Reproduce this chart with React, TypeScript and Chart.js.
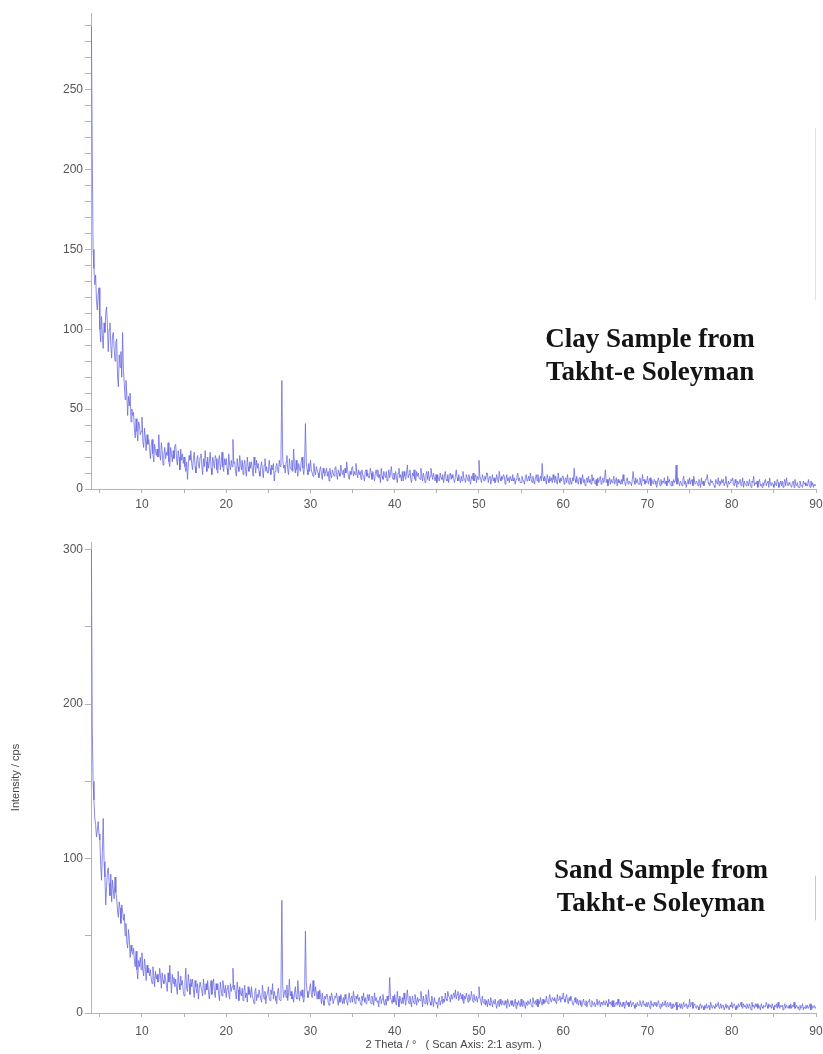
import React, { useEffect, useRef } from 'react';
import { Chart, registerables } from 'chart.js';

Chart.register(...registerables);

// Scan grid (2 Theta, degrees)
const SCAN_START = 4.0;
const SCAN_STEP = 0.1;
const SCAN_POINTS = 861;
const twoTheta: number[] = Array.from({ length: SCAN_POINTS }, (_, i) => +(SCAN_START + i * SCAN_STEP).toFixed(2));

// Clay sample counts (cps), 10 values per degree starting at 4.0
const clayCounts: number[] = [
  290, 210, 150, 138, 128, 134, 118, 112, 122, 126, // 4
  100, 92, 108, 96, 88, 104, 98, 110, 114, 102, // 5
  86, 100, 104, 90, 82, 96, 98, 88, 80, 92, // 6
  94, 70, 64, 84, 76, 86, 70, 98, 74, 66, // 7
  56, 68, 60, 46, 58, 52, 60, 42, 50, 46, // 8
  48, 38, 32, 44, 36, 30, 42, 40, 34, 36, // 9
  45, 30, 26, 38, 32, 24, 34, 28, 31, 26, // 10
  19, 27, 31, 22, 17, 28, 24, 21, 25, 20, // 11
  34, 22, 18, 29, 24, 15, 21, 26, 19, 23, // 12
  21, 29, 17, 14, 26, 22, 17, 24, 19, 27, // 13
  28, 19, 15, 24, 20, 12, 25, 18, 22, 16, // 14
  20, 14, 11, 17, 6, 15, 21, 18, 24, 16, // 15
  12, 19, 23, 14, 10, 18, 21, 15, 13, 20, // 16
  22, 15, 9, 19, 14, 24, 17, 11, 20, 13, // 17
  17, 23, 13, 9, 20, 16, 13, 21, 19, 12, // 18
  10, 18, 21, 12, 16, 23, 14, 11, 19, 15, // 19
  19, 13, 9, 22, 15, 12, 18, 14, 31, 16, // 20
  17, 11, 8, 19, 14, 11, 21, 16, 12, 18, // 21
  9, 15, 18, 11, 8, 20, 14, 11, 17, 13, // 22
  17, 12, 8, 20, 15, 10, 18, 13, 16, 11, // 23
  8, 14, 17, 12, 7, 15, 19, 11, 14, 10, // 24
  10, 18, 13, 9, 15, 12, 16, 5, 11, 14, // 25
  16, 12, 10, 18, 14, 22, 68, 20, 13, 15, // 26
  10, 17, 21, 12, 9, 19, 14, 12, 18, 11, // 27
  25, 14, 10, 18, 12, 8, 16, 13, 11, 17, // 28
  20, 13, 9, 15, 41, 17, 12, 9, 16, 11, // 29
  18, 12, 10, 8, 16, 11, 9, 14, 12, 10, // 30
  7, 12, 14, 9, 6, 13, 10, 8, 11, 13, // 31
  8, 11, 5, 13, 9, 7, 12, 10, 8, 13, // 32
  14, 9, 6, 12, 10, 8, 15, 11, 9, 12, // 33
  7, 13, 10, 17, 12, 8, 6, 11, 9, 13, // 34
  14, 8, 11, 9, 16, 10, 7, 12, 9, 11, // 35
  6, 12, 9, 8, 5, 11, 12, 8, 10, 7, // 36
  7, 13, 10, 6, 11, 8, 5, 10, 12, 8, // 37
  12, 7, 9, 4, 13, 8, 6, 11, 9, 7, // 38
  11, 5, 8, 12, 7, 10, 14, 8, 6, 10, // 39
  6, 11, 8, 4, 10, 13, 7, 9, 5, 11, // 40
  5, 11, 8, 6, 10, 15, 7, 9, 12, 6, // 41
  4, 10, 8, 12, 6, 5, 11, 8, 10, 7, // 42
  6, 13, 9, 5, 10, 7, 4, 9, 11, 6, // 43
  11, 5, 8, 13, 9, 6, 10, 7, 5, 9, // 44
  4, 9, 6, 5, 10, 7, 6, 9, 4, 8, // 45
  11, 6, 5, 9, 4, 8, 10, 6, 9, 7, // 46
  6, 4, 8, 12, 7, 5, 9, 6, 4, 8, // 47
  5, 11, 7, 6, 4, 9, 7, 5, 9, 6, // 48
  3, 8, 6, 10, 5, 7, 9, 4, 8, 6, // 49
  18, 8, 6, 4, 9, 7, 5, 8, 6, 10, // 50
  10, 4, 7, 8, 3, 6, 9, 5, 7, 4, // 51
  5, 9, 6, 4, 11, 7, 5, 8, 6, 9, // 52
  8, 3, 6, 9, 5, 7, 4, 8, 6, 5, // 53
  9, 5, 7, 3, 6, 8, 10, 5, 7, 4, // 54
  4, 8, 6, 5, 3, 7, 9, 5, 6, 8, // 55
  5, 10, 6, 4, 8, 5, 3, 7, 9, 5, // 56
  9, 4, 6, 8, 5, 16, 7, 5, 8, 6, // 57
  3, 9, 6, 4, 8, 5, 7, 4, 9, 6, // 58
  4, 8, 5, 3, 10, 6, 4, 7, 5, 8, // 59
  8, 3, 6, 7, 4, 9, 5, 3, 7, 5, // 60
  3, 7, 5, 13, 6, 4, 8, 5, 3, 7, // 61
  7, 3, 5, 9, 4, 6, 2, 5, 7, 4, // 62
  8, 4, 6, 3, 9, 5, 7, 4, 3, 6, // 63
  2, 7, 4, 6, 8, 3, 5, 7, 4, 6, // 64
  12, 4, 6, 2, 5, 7, 3, 6, 4, 5, // 65
  8, 3, 5, 7, 2, 6, 4, 5, 3, 6, // 66
  3, 9, 5, 4, 2, 6, 7, 3, 5, 4, // 67
  4, 2, 6, 11, 5, 3, 7, 4, 6, 3, // 68
  3, 7, 4, 2, 9, 5, 6, 3, 5, 4, // 69
  8, 3, 5, 7, 2, 6, 4, 3, 6, 5, // 70
  3, 1, 5, 7, 4, 2, 6, 3, 5, 4, // 71
  7, 3, 5, 2, 8, 4, 6, 3, 2, 5, // 72
  2, 6, 4, 5, 15, 3, 7, 4, 2, 5, // 73
  4, 2, 6, 8, 3, 5, 1, 4, 6, 3, // 74
  7, 3, 5, 6, 2, 8, 4, 3, 5, 4, // 75
  2, 6, 4, 1, 7, 3, 5, 2, 4, 6, // 76
  6, 9, 4, 3, 2, 6, 4, 5, 3, 2, // 77
  1, 6, 4, 3, 7, 2, 5, 3, 6, 4, // 78
  6, 2, 4, 8, 3, 1, 5, 3, 4, 6, // 79
  5, 7, 3, 2, 6, 4, 1, 5, 3, 4, // 80
  6, 2, 4, 7, 1, 5, 3, 2, 5, 4, // 81
  2, 6, 3, 1, 5, 4, 8, 2, 4, 3, // 82
  5, 1, 4, 6, 2, 3, 1, 4, 2, 5, // 83
  6, 2, 4, 5, 1, 7, 3, 2, 4, 3, // 84
  1, 5, 3, 2, 6, 4, 1, 3, 5, 2, // 85
  5, 1, 4, 6, 2, 7, 3, 2, 4, 3, // 86
  2, 1, 4, 5, 1, 6, 3, 2, 4, 1, // 87
  1, 5, 3, 2, 1, 5, 3, 4, 2, 3, // 88
  2, 6, 3, 1, 5, 2, 4, 1, 3, 2, // 89
  3, // 90
];

// Sand sample counts (cps), 10 values per degree starting at 4.0
const sandCounts: number[] = [
  300, 185, 150, 138, 126, 122, 114, 118, 124, 116, // 4
  112, 96, 86, 104, 126, 98, 88, 70, 82, 92, // 5
  94, 84, 76, 90, 72, 86, 80, 74, 88, 78, // 6
  74, 66, 62, 72, 68, 58, 70, 66, 60, 64, // 7
  50, 58, 46, 42, 54, 48, 36, 44, 40, 38, // 8
  42, 34, 30, 40, 28, 22, 34, 30, 36, 28, // 9
  39, 28, 24, 35, 30, 21, 31, 26, 29, 24, // 10
  28, 22, 19, 30, 24, 17, 27, 22, 25, 20, // 11
  21, 29, 24, 16, 26, 21, 19, 25, 22, 18, // 12
  14, 26, 20, 31, 22, 13, 25, 19, 23, 17, // 13
  22, 16, 12, 27, 19, 15, 24, 18, 21, 14, // 14
  11, 20, 29, 16, 14, 25, 19, 12, 22, 17, // 15
  22, 15, 10, 21, 17, 13, 19, 9, 16, 20, // 16
  20, 14, 11, 22, 16, 12, 19, 15, 21, 13, // 17
  9, 17, 21, 12, 18, 22, 14, 10, 19, 15, // 18
  19, 12, 8, 20, 15, 11, 21, 16, 13, 18, // 19
  10, 16, 18, 12, 9, 19, 14, 17, 29, 15, // 20
  18, 12, 9, 20, 15, 8, 17, 13, 11, 16, // 21
  8, 14, 18, 10, 13, 7, 17, 12, 15, 10, // 22
  17, 11, 9, 6, 14, 16, 8, 12, 10, 15, // 23
  15, 9, 7, 18, 12, 9, 14, 6, 11, 13, // 24
  17, 10, 8, 15, 12, 19, 9, 14, 11, 8, // 25
  6, 14, 16, 9, 8, 20, 73, 18, 10, 13, // 26
  15, 10, 18, 8, 13, 22, 11, 14, 9, 12, // 27
  7, 13, 17, 10, 9, 21, 12, 8, 14, 11, // 28
  15, 10, 7, 12, 53, 20, 14, 10, 12, 16, // 29
  19, 12, 10, 21, 14, 11, 17, 13, 9, 14, // 30
  9, 15, 11, 6, 13, 8, 5, 11, 9, 12, // 31
  12, 7, 5, 11, 8, 13, 10, 6, 9, 11, // 32
  10, 13, 8, 5, 11, 7, 12, 9, 6, 10, // 33
  6, 12, 9, 8, 5, 10, 13, 7, 9, 11, // 34
  7, 14, 10, 6, 11, 9, 12, 8, 10, 7, // 35
  5, 11, 8, 13, 7, 10, 6, 9, 12, 8, // 36
  12, 7, 6, 11, 9, 5, 13, 8, 10, 7, // 37
  8, 4, 10, 11, 6, 9, 12, 7, 5, 9, // 38
  5, 11, 8, 9, 23, 10, 8, 6, 11, 7, // 39
  12, 7, 5, 14, 9, 4, 11, 8, 6, 10, // 40
  6, 13, 9, 5, 10, 15, 8, 6, 11, 7, // 41
  4, 11, 8, 6, 12, 9, 5, 10, 7, 9, // 42
  8, 14, 10, 4, 11, 7, 6, 12, 8, 5, // 43
  15, 9, 7, 5, 11, 8, 4, 10, 7, 6, // 44
  7, 3, 9, 10, 5, 8, 11, 6, 9, 7, // 45
  13, 9, 8, 14, 11, 10, 7, 12, 9, 11, // 46
  13, 10, 15, 9, 12, 14, 8, 11, 13, 9, // 47
  12, 8, 6, 11, 9, 13, 10, 7, 12, 8, // 48
  9, 14, 10, 7, 12, 9, 8, 11, 7, 10, // 49
  17, 10, 8, 5, 11, 7, 6, 9, 5, 8, // 50
  4, 9, 6, 5, 10, 7, 4, 8, 6, 9, // 51
  6, 3, 7, 8, 4, 9, 6, 5, 8, 6, // 52
  5, 8, 6, 3, 9, 7, 4, 6, 8, 5, // 53
  8, 4, 6, 9, 3, 7, 5, 8, 6, 4, // 54
  9, 5, 4, 8, 6, 3, 7, 5, 8, 6, // 55
  6, 9, 5, 4, 10, 7, 6, 8, 5, 9, // 56
  4, 8, 6, 10, 7, 5, 9, 6, 8, 7, // 57
  11, 7, 6, 9, 12, 8, 7, 10, 9, 8, // 58
  10, 7, 6, 12, 8, 9, 11, 7, 10, 9, // 59
  13, 9, 7, 10, 12, 8, 6, 10, 8, 11, // 60
  9, 6, 5, 8, 10, 7, 6, 9, 5, 8, // 61
  8, 5, 4, 7, 9, 6, 5, 8, 4, 7, // 62
  7, 9, 5, 4, 8, 6, 5, 7, 4, 6, // 63
  9, 5, 7, 8, 4, 7, 6, 5, 8, 6, // 64
  5, 8, 6, 4, 9, 6, 7, 5, 8, 4, // 65
  8, 4, 6, 7, 5, 9, 6, 4, 7, 5, // 66
  4, 7, 5, 3, 6, 8, 5, 7, 4, 6, // 67
  8, 4, 6, 7, 5, 3, 6, 4, 7, 5, // 68
  5, 8, 6, 4, 7, 8, 5, 6, 4, 7, // 69
  4, 7, 5, 3, 8, 5, 6, 4, 7, 5, // 70
  7, 4, 6, 8, 5, 3, 6, 4, 7, 5, // 71
  5, 8, 4, 6, 7, 4, 5, 7, 3, 6, // 72
  3, 6, 4, 5, 7, 2, 5, 4, 6, 3, // 73
  6, 3, 5, 7, 4, 5, 6, 3, 5, 4, // 74
  9, 4, 6, 7, 3, 5, 6, 4, 3, 5, // 75
  4, 2, 5, 6, 3, 5, 4, 2, 5, 3, // 76
  6, 3, 4, 5, 2, 7, 4, 3, 5, 4, // 77
  3, 6, 4, 5, 7, 3, 4, 6, 3, 5, // 78
  5, 2, 4, 6, 3, 5, 4, 2, 5, 4, // 79
  7, 3, 5, 6, 4, 2, 5, 3, 6, 4, // 80
  5, 7, 4, 3, 6, 4, 5, 3, 6, 4, // 81
  3, 6, 4, 2, 7, 4, 5, 3, 6, 4, // 82
  6, 3, 5, 4, 2, 6, 4, 3, 5, 4, // 83
  4, 7, 5, 3, 6, 4, 5, 3, 6, 4, // 84
  2, 5, 4, 6, 3, 7, 4, 3, 5, 4, // 85
  5, 2, 4, 6, 3, 5, 4, 3, 5, 3, // 86
  6, 3, 5, 4, 7, 3, 4, 5, 3, 4, // 87
  2, 5, 3, 4, 6, 2, 4, 3, 5, 3, // 88
  5, 3, 4, 6, 2, 5, 3, 4, 5, 3, // 89
  4, // 90
];

// Axis ticks
const xTickValues: number[] = [5, 10, 15, 20, 25, 30, 35, 40, 45, 50, 55, 60, 65, 70, 75, 80, 85, 90];
const xLabelEvery = 10;
const clayYTicks: number[] = [0, 10, 20, 30, 40, 50, 60, 70, 80, 90, 100, 110, 120, 130, 140, 150, 160, 170, 180, 190, 200, 210, 220, 230, 240, 250, 260, 270, 280, 290];
const clayYLabelEvery = 50;
const sandYTicks: number[] = [0, 50, 100, 150, 200, 250, 300];
const sandYLabelEvery = 100;

const clayLabelLines = ['Clay Sample from', 'Takht-e Soleyman'];
const sandLabelLines = ['Sand Sample from', 'Takht-e Soleyman'];

const X_MIN = 3.95;
const X_MAX = 90;
const AXIS_COLOR = '#b4b4b4';
const TICK_TEXT = '#555555';
const LINE_COLOR = 'rgba(104, 104, 224, 0.78)';
const SANS = '"Liberation Sans", Arial, sans-serif';

const sampleLabelPlugin = {
  id: 'sampleLabel',
  afterDatasetsDraw(chart: any, _args: any, opts: any) {
    if (!opts || !opts.lines) return;
    const { ctx, scales } = chart;
    const x = scales.x;
    const y = scales.y;
    ctx.save();
    ctx.font = 'bold 27px "Liberation Serif", "Times New Roman", serif';
    ctx.fillStyle = '#141414';
    ctx.textAlign = 'center';
    ctx.textBaseline = 'alphabetic';
    opts.lines.forEach((t: string, i: number) => {
      ctx.fillText(t, x.getPixelForValue(opts.x), y.getPixelForValue(opts.y[i]));
    });
    if (opts.mark) {
      ctx.strokeStyle = opts.mark.color;
      ctx.lineWidth = 1;
      ctx.beginPath();
      const px = Math.round(x.getPixelForValue(opts.mark.x)) - 0.5;
      ctx.moveTo(px, y.getPixelForValue(opts.mark.y0));
      ctx.lineTo(px, y.getPixelForValue(opts.mark.y1));
      ctx.stroke();
    }
    ctx.restore();
  },
};

type PanelProps = {
  counts: number[];
  yMax: number;
  yTicks: number[];
  yLabelEvery: number;
  height: number;
  top: number;
  padTop: number;
  xAxisHeight: number;
  xLabelPad: number;
  yTitle?: string;
  xTitle?: string;
  label: any;
};

function XrdPanel(props: PanelProps) {
  const ref = useRef<HTMLCanvasElement | null>(null);
  useEffect(() => {
    if (!ref.current) return;
    const n = Math.min(props.counts.length, twoTheta.length);
    const points = [];
    for (let i = 0; i < n; i++) points.push({ x: twoTheta[i], y: props.counts[i] });
    const chart = new Chart(ref.current, {
      type: 'line',
      data: {
        datasets: [
          {
            data: points,
            borderColor: LINE_COLOR,
            borderWidth: 1,
            pointRadius: 0,
            tension: 0,
            fill: false,
          },
        ],
      },
      options: {
        responsive: false,
        animation: false,
        parsing: false as any,
        layout: { padding: { top: props.padTop, right: 7, left: 0, bottom: 0 } },
        plugins: {
          legend: { display: false },
          tooltip: { enabled: false },
          sampleLabel: props.label,
        } as any,
        scales: {
          x: {
            type: 'linear',
            min: X_MIN,
            max: X_MAX,
            afterBuildTicks: (s: any) => {
              s.ticks = xTickValues.map((v) => ({ value: v }));
            },
            afterFit: (s: any) => {
              s.height = props.xAxisHeight;
              s.paddingRight = 0;
              s.paddingLeft = 0;
            },
            ticks: {
              autoSkip: false,
              maxRotation: 0,
              padding: props.xLabelPad,
              color: TICK_TEXT,
              font: { family: SANS, size: 12 },
              callback: (v: any) => (Number(v) % xLabelEvery === 0 ? String(v) : ''),
            },
            grid: { drawOnChartArea: false, drawTicks: true, tickLength: 4, tickColor: AXIS_COLOR },
            border: { display: true, color: AXIS_COLOR },
            title: props.xTitle
              ? {
                  display: true,
                  text: props.xTitle,
                  color: '#444444',
                  font: { family: SANS, size: 11 },
                  padding: { top: 0, bottom: 2 },
                }
              : { display: false },
          },
          y: {
            type: 'linear',
            min: 0,
            max: props.yMax,
            afterBuildTicks: (s: any) => {
              s.ticks = props.yTicks.map((v) => ({ value: v }));
            },
            afterFit: (s: any) => {
              s.width = 91;
              s.paddingTop = 0;
              s.paddingBottom = 0;
            },
            ticks: {
              autoSkip: false,
              padding: 2,
              color: TICK_TEXT,
              font: { family: SANS, size: 12 },
              callback: (v: any) => (Number(v) % props.yLabelEvery === 0 ? String(v) : ''),
            },
            grid: { drawOnChartArea: false, drawTicks: true, tickLength: 6, tickColor: AXIS_COLOR },
            border: { display: true, color: AXIS_COLOR },
            title: props.yTitle
              ? {
                  display: true,
                  text: props.yTitle,
                  color: '#444444',
                  font: { family: SANS, size: 11 },
                  padding: { top: 9, bottom: 0 },
                }
              : { display: false },
          },
        },
      } as any,
      plugins: [sampleLabelPlugin as any],
    });
    return () => chart.destroy();
  }, []);
  return (
    <canvas
      ref={ref}
      width={823}
      height={props.height}
      style={{ position: 'absolute', left: 0, top: props.top, width: 823, height: props.height }}
    />
  );
}

export default function App() {
  return (
    <div style={{ position: 'absolute', left: 0, top: 0, width: 823, height: 1054, background: '#ffffff', overflow: 'hidden' }}>
      <XrdPanel
        counts={clayCounts}
        yMax={298}
        yTicks={clayYTicks}
        yLabelEvery={clayYLabelEvery}
        height={520}
        top={0}
        padTop={13}
        xAxisHeight={31}
        xLabelPad={4}
        label={{ lines: clayLabelLines, x: 70.3, y: [89, 68], mark: { x: 89.95, y0: 226, y1: 118, color: '#e2e2e2' } }}
      />
      <XrdPanel
        counts={sandCounts}
        yMax={305}
        yTicks={sandYTicks}
        yLabelEvery={sandYLabelEvery}
        height={534}
        top={520}
        padTop={22}
        xAxisHeight={41}
        xLabelPad={7}
        yTitle="Intensity / cps"
        xTitle="2 Theta / °   ( Scan Axis: 2:1 asym. )"
        label={{ lines: sandLabelLines, x: 71.6, y: [87.5, 66], mark: { x: 89.95, y0: 89, y1: 60, color: '#c8c8c8' } }}
      />
    </div>
  );
}
